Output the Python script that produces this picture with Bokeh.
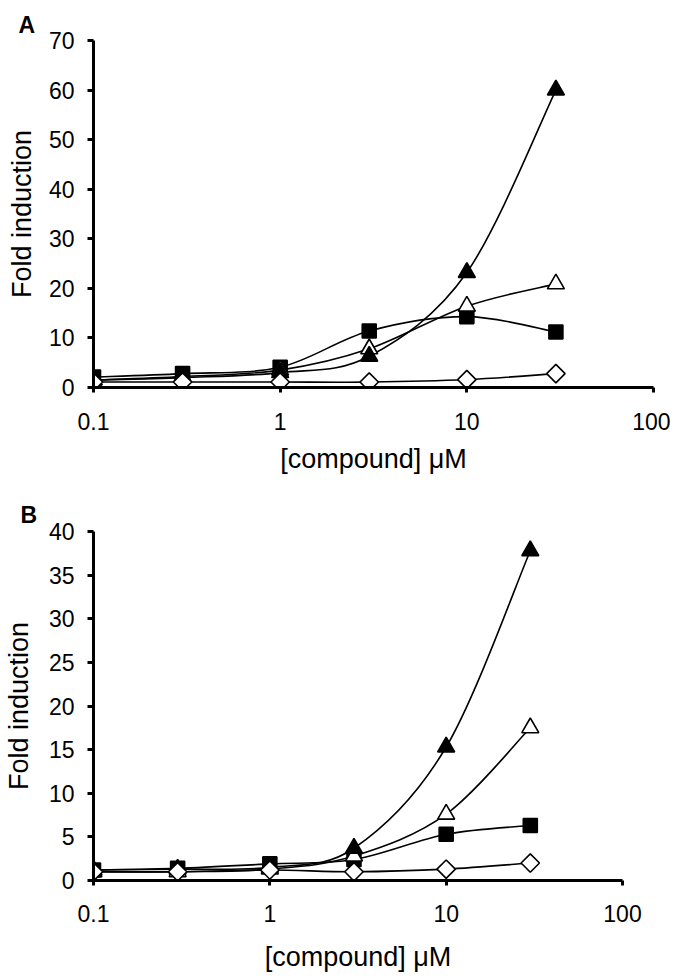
import math
from bokeh.plotting import figure
from bokeh.models import FixedTicker, CustomJSTickFormatter, Range1d, Title
from bokeh.embed import file_html
from bokeh.resources import INLINE

# ---------------- data ----------------
conc = [0.1, 0.3, 1, 3, 10, 30]

a_filled_triangle = [1.5, 2.0, 3.0, 6.3, 23.2, 60.0]
a_open_triangle = [1.5, 2.2, 3.5, 7.8, 16.4, 20.9]
a_filled_square = [2.1, 2.8, 4.1, 11.4, 14.3, 11.2]
a_open_diamond = [1.1, 1.1, 1.1, 1.1, 1.6, 2.8]

b_filled_triangle = [1.2, 1.3, 1.5, 3.7, 15.3, 37.8]
b_open_triangle = [1.0, 1.0, 1.3, 2.8, 7.6, 17.5]
b_filled_square = [1.2, 1.4, 1.9, 2.4, 5.3, 6.3]
b_open_diamond = [1.0, 1.0, 1.2, 1.0, 1.3, 2.0]

x_ticks = [0.1, 1, 10, 100]
a_y_ticks = [0, 10, 20, 30, 40, 50, 60, 70]
b_y_ticks = [0, 5, 10, 15, 20, 25, 30, 35, 40]

x_label = "[compound] \u03bcM"
y_label = "Fold induction"

FONT = "Liberation Sans"


def smooth_segments(xs, ys):
    """Catmull-Rom style cubic bezier control points (in log-x space)."""
    lx = [math.log10(v) for v in xs]
    n = len(lx)
    out = dict(x0=[], y0=[], x1=[], y1=[], cx0=[], cy0=[], cx1=[], cy1=[])
    for i in range(n - 1):
        p0 = (lx[max(i - 1, 0)], ys[max(i - 1, 0)])
        p1 = (lx[i], ys[i])
        p2 = (lx[i + 1], ys[i + 1])
        p3 = (lx[min(i + 2, n - 1)], ys[min(i + 2, n - 1)])
        c0 = (p1[0] + (p2[0] - p0[0]) / 6.0, p1[1] + (p2[1] - p0[1]) / 6.0)
        c1 = (p2[0] - (p3[0] - p1[0]) / 6.0, p2[1] - (p3[1] - p1[1]) / 6.0)
        out["x0"].append(10 ** p1[0]); out["y0"].append(p1[1])
        out["x1"].append(10 ** p2[0]); out["y1"].append(p2[1])
        out["cx0"].append(10 ** c0[0]); out["cy0"].append(c0[1])
        out["cx1"].append(10 ** c1[0]); out["cy1"].append(c1[1])
    return out


def make_panel(letter, series, yticks, width, height, bl, br, bt, bb,
               letter_offset, letter_standoff, xtick_standoff, xlabel_standoff,
               ylabel_standoff):
    p = figure(width=width, height=height, x_axis_type="log",
               x_range=Range1d(0.1, 100), y_range=Range1d(0, yticks[-1]),
               output_backend="svg", toolbar_location=None,
               min_border_left=bl, min_border_right=br,
               min_border_top=bt, min_border_bottom=bb)
    p.outline_line_color = None
    p.grid.visible = False
    p.background_fill_color = "white"

    t = Title(text=letter, align="left", offset=letter_offset,
              text_font=FONT, text_font_size="23px", text_font_style="bold",
              text_color="black", standoff=letter_standoff)
    p.add_layout(t, "above")

    for vals, marker, fill, size in series:
        seg = smooth_segments(conc, vals)
        p.bezier(x0=seg["x0"], y0=seg["y0"], x1=seg["x1"], y1=seg["y1"],
                 cx0=seg["cx0"], cy0=seg["cy0"], cx1=seg["cx1"], cy1=seg["cy1"],
                 line_color="black", line_width=1.6)
    for vals, marker, fill, size in series:
        angle = math.pi / 4 if marker == "square_rot" else 0
        m = "square" if marker == "square_rot" else marker
        p.scatter(conc, vals, marker=m, size=size, angle=angle,
                  fill_color=fill, line_color="black", line_width=1.6)

    xa = p.xaxis[0]
    xa.ticker = FixedTicker(ticks=x_ticks, minor_ticks=[])
    xa.formatter = CustomJSTickFormatter(code="return tick.toString();")
    ya = p.yaxis[0]
    ya.ticker = FixedTicker(ticks=yticks, minor_ticks=[])

    for ax in (xa, ya):
        ax.axis_line_width = 3
        ax.axis_line_color = "black"
        ax.major_tick_line_width = 3
        ax.major_tick_line_color = "black"
        ax.major_tick_in = 0
        ax.minor_tick_line_color = None
        ax.major_label_text_font = FONT
        ax.major_label_text_font_size = "23px"
        ax.major_label_text_color = "black"
        ax.axis_label_text_font = FONT
        ax.axis_label_text_font_size = "27px"
        ax.axis_label_text_font_style = "normal"
        ax.axis_label_text_color = "black"
    xa.major_tick_out = 5
    ya.major_tick_out = 6
    xa.major_label_standoff = xtick_standoff
    ya.major_label_standoff = 13
    xa.axis_label = x_label
    ya.axis_label = y_label
    xa.axis_label_standoff = xlabel_standoff
    ya.axis_label_standoff = ylabel_standoff
    return p


series_a = [
    (a_filled_square, "square", "black", 14),
    (a_open_triangle, "triangle", "white", 17),
    (a_filled_triangle, "triangle", "black", 17),
    (a_open_diamond, "square_rot", "white", 13),
]
series_b = [
    (b_filled_square, "square", "black", 14),
    (b_open_triangle, "triangle", "white", 17),
    (b_filled_triangle, "triangle", "black", 17),
    (b_open_diamond, "square_rot", "white", 13),
]

pa = make_panel("A", series_a, a_y_ticks, 670, 488, 93, 17, 40, 101,
                -75, 6, 20, 11, 9)
pb = make_panel("B", series_b, b_y_ticks, 670, 487, 91, 48, 43, 95,
                -73, 8, 19, 17, 12)

open("out.html", "w").write(file_html([pa, pb], INLINE))
